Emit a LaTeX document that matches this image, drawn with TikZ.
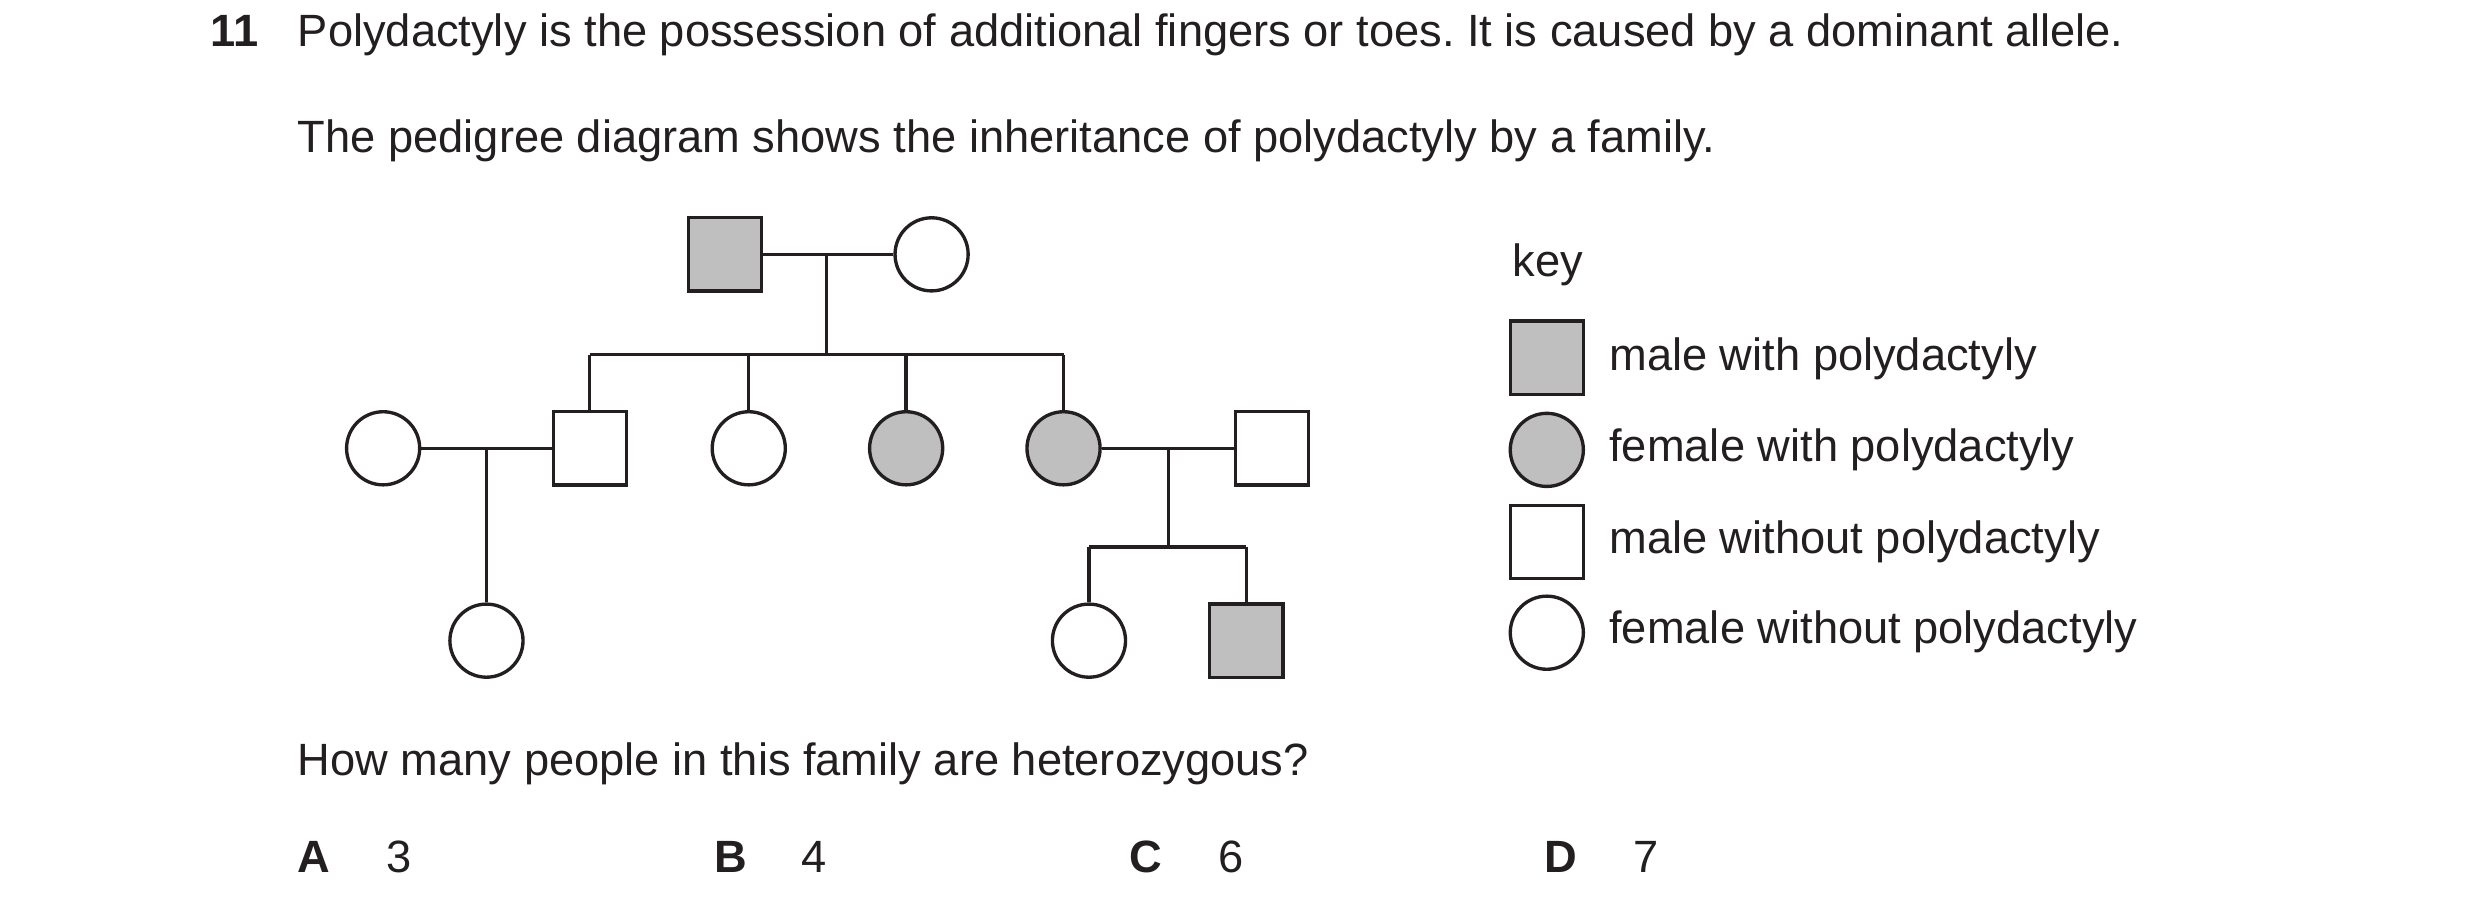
\documentclass[tikz,border=0pt]{standalone}
\usepackage{fontspec}
\setmainfont{Liberation Sans}
\frenchspacing
\definecolor{ink}{HTML}{231F20}
\begin{document}
\begin{tikzpicture}[x=0.02cm,y=-0.02cm,
  every node/.style={inner sep=0pt,text=ink},
  txt/.style={anchor=base west,font=\fontsize{16.2pt}{19pt}\selectfont},
  bt/.style={anchor=base west,font=\fontsize{16.2pt}{19pt}\selectfont\bfseries},
  per/.style={draw=ink,line width=1.2pt},
  m/.style={per,rectangle,minimum size=0.92cm},
  f/.style={per,circle,minimum size=0.92cm},
  aff/.style={fill=black!25},
  ln/.style={line width=1.2pt,draw=ink}]
\useasboundingbox (0,0) rectangle (1560,573);
\node[bt] (q) at (132,29) {11};
\node[txt] (t1) at (187,29) {Polydactyly is the possession of additional fingers or toes. It is caused by a dominant allele.};
\node[txt] (t2) at (187,96) {The pedigree diagram shows the inheritance of polydactyly by a family.};
% generation 1
\node[m,aff] (g1m) at (456,160) {};
\node[f] (g1f) at (586,160) {};
\draw[ln] (g1m) -- (g1f);
\coordinate (c1) at (520,160);
\coordinate (c1b) at (520,223);
\draw[ln] (c1) -- (c1b);
% generation 2
\node[f] (w1) at (241,282) {};
\node[m] (s1) at (371,282) {};
\node[f] (d1) at (471,282) {};
\node[f,aff] (d2) at (570,282) {};
\node[f,aff] (d3) at (669,282) {};
\node[m] (h3) at (800,282) {};
\draw[ln] (371,223) -- (669,223);
\draw[ln] (371,223) -- (s1.north);
\draw[ln] (471,223) -- (d1.north);
\draw[ln] (570,223) -- (d2.north);
\draw[ln] (669,223) -- (d3.north);
\draw[ln] (w1) -- (s1);
\draw[ln] (d3) -- (h3);
% generation 3
\node[f] (k1) at (306,403) {};
\node[f] (k2) at (685,403) {};
\node[m,aff] (k3) at (784,403) {};
\draw[ln] (306,282) -- (k1.north);
\draw[ln] (735,282) -- (735,344);
\draw[ln] (685,344) -- (784,344);
\draw[ln] (685,344) -- (k2.north);
\draw[ln] (784,344) -- (k3.north);
% key
\node[txt] (key) at (951,174) {key};
\node[m,aff] (k1s) at (973,225) {};
\node[f,aff] (k2s) at (973,283) {};
\node[m] (k3s) at (973,341) {};
\node[f] (k4s) at (973,398) {};
\node[txt] (l1) at (1012,233) {male with polydactyly};
\node[txt] (l2) at (1012,290) {female with polydactyly};
\node[txt] (l3) at (1012,348) {male without polydactyly};
\node[txt] (l4) at (1012,405) {female without polydactyly};
% question
\node[txt] (qq) at (187,488) {How many people in this family are heterozygous?};
\node[bt] (oa) at (187,549) {A};
\node[txt] (va) at (243,549) {3};
\node[bt] (ob) at (449,549) {B};
\node[txt] (vb) at (504,549) {4};
\node[bt] (oc) at (710,549) {C};
\node[txt] (vc) at (766,549) {6};
\node[bt] (od) at (971,549) {D};
\node[txt] (vd) at (1027,549) {7};
\end{tikzpicture}
\end{document}
